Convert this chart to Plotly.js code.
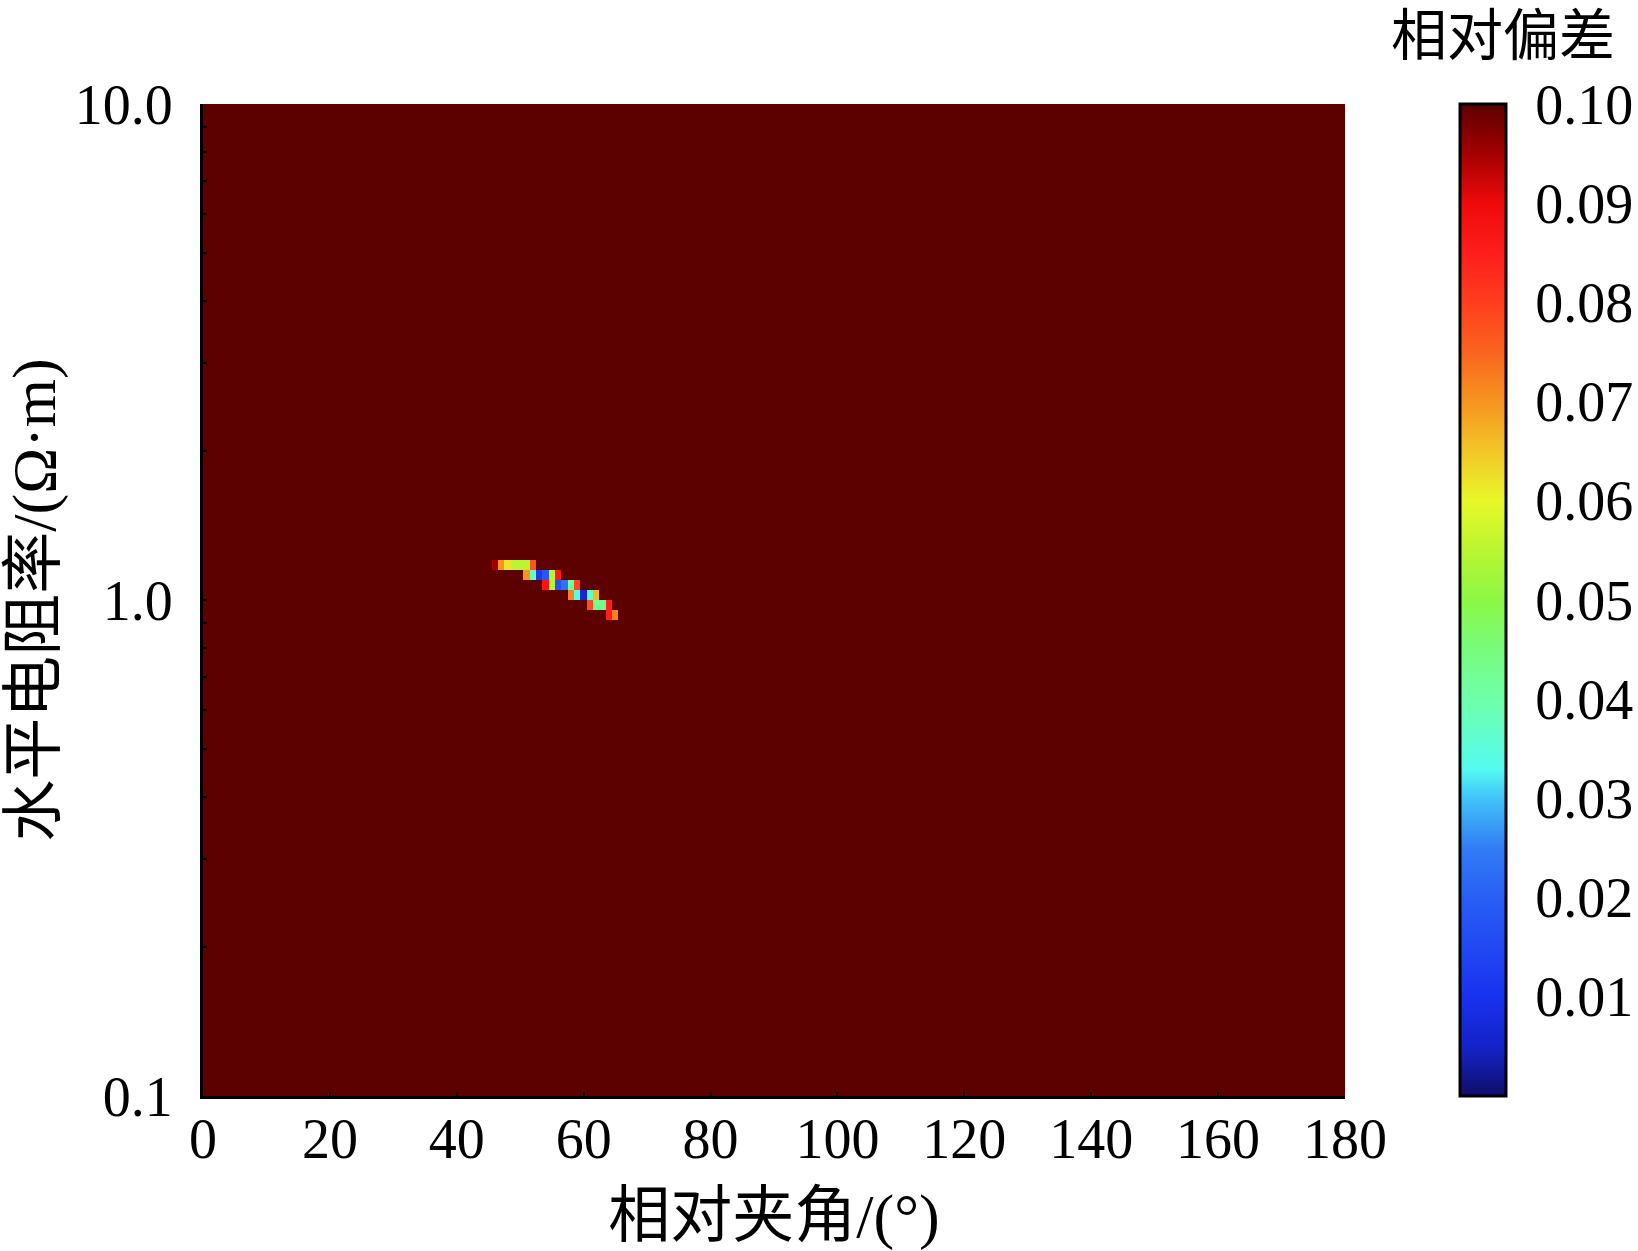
<!DOCTYPE html>
<html><head><meta charset="utf-8">
<script src="https://cdn.plot.ly/plotly-3.0.1.min.js"></script>
<style>html,body{margin:0;padding:0;background:#fff}#chart{width:1638px;height:1251px}</style>
</head><body><div id="chart"></div>
<script>
// ---- grid definition (relative angle in degrees, log10 of horizontal resistivity) ----
const angleMin = 0, angleMax = 180, angleStep = 1;
const logRhoMin = -1, logRhoMax = 1, logRhoStep = 0.02;
// value of every cell whose relative deviation is >= 0.1 (saturated at top of colour scale)
const saturatedDev = 0.1;

// ---- cells of the low-deviation band (angle °, resistivity Ω·m, relative deviation) ----
const curveAngle = [46, 47, 48, 49, 50, 51, 52,
                    51, 52, 53, 54, 55, 56,
                    54, 55, 56, 57, 58, 59,
                    58, 59, 60, 61, 62,
                    61, 62, 63, 64,
                    64, 65];
const curveRho   = [1.175, 1.175, 1.175, 1.175, 1.175, 1.175, 1.175,
                    1.122, 1.122, 1.122, 1.122, 1.122, 1.122,
                    1.072, 1.072, 1.072, 1.072, 1.072, 1.072,
                    1.023, 1.023, 1.023, 1.023, 1.023,
                    0.977, 0.977, 0.977, 0.977,
                    0.933, 0.933];
const curveDev   = [0.095, 0.070, 0.062, 0.055, 0.055, 0.055, 0.077,
                    0.070, 0.038, 0.012, 0.019, 0.055, 0.086,
                    0.087, 0.055, 0.017, 0.023, 0.042, 0.079,
                    0.072, 0.034, 0.006, 0.037, 0.066,
                    0.078, 0.043, 0.043, 0.085,
                    0.085, 0.072];

// ---- tick labels ----
const xTickVals = [0, 20, 40, 60, 80, 100, 120, 140, 160, 180];
const yDecadeRho = [0.1, 1, 10];
const yDecadeText = ['0.1', '1.0', '10.0'];
const cbTickVals = [0.01, 0.02, 0.03, 0.04, 0.05, 0.06, 0.07, 0.08, 0.09, 0.10];

// ---- build grid ----
const nAngle = Math.round((angleMax - angleMin) / angleStep) + 1;       // cells centred on integer angles
const nRho = Math.round((logRhoMax - logRhoMin) / logRhoStep);          // cells between edges
const angleEdges = [];
for (let i = 0; i <= nAngle; i++) angleEdges.push(angleMin - angleStep / 2 + i * angleStep);
const logRhoEdges = [];
for (let j = 0; j <= nRho; j++) logRhoEdges.push(+(logRhoMin + j * logRhoStep).toFixed(4));

const z = [];
for (let j = 0; j < nRho; j++) { const row = new Array(nAngle).fill(saturatedDev); z.push(row); }
for (let k = 0; k < curveAngle.length; k++) {
  const ci = Math.round((curveAngle[k] - angleMin) / angleStep);
  const rj = Math.floor((Math.log10(curveRho[k]) - logRhoMin) / logRhoStep);
  z[rj][ci] = curveDev[k];
}

// y ticks: decades labelled, 2..9 minor unlabelled
const yTickVals = [], yTickText = [];
for (let d = 0; d < yDecadeRho.length; d++) {
  yTickVals.push(Math.log10(yDecadeRho[d])); yTickText.push(yDecadeText[d]);
  if (d < yDecadeRho.length - 1) {
    for (let m = 2; m <= 9; m++) { yTickVals.push(Math.log10(m * yDecadeRho[d])); yTickText.push(''); }
  }
}
const cbTickText = cbTickVals.map(v => v.toFixed(2));

const colorscale = [
  [0.00, 'rgb(15,15,105)'], [0.05, 'rgb(20,35,200)'], [0.10, 'rgb(25,50,240)'],
  [0.20, 'rgb(40,95,245)'], [0.25, 'rgb(50,125,245)'], [0.30, 'rgb(65,195,250)'],
  [0.33, 'rgb(85,250,240)'], [0.40, 'rgb(110,255,170)'], [0.45, 'rgb(120,252,125)'],
  [0.50, 'rgb(140,248,70)'], [0.55, 'rgb(185,245,50)'], [0.60, 'rgb(232,248,40)'],
  [0.65, 'rgb(242,198,40)'], [0.70, 'rgb(246,148,32)'], [0.75, 'rgb(250,100,30)'],
  [0.80, 'rgb(255,62,30)'], [0.85, 'rgb(255,30,28)'], [0.90, 'rgb(238,10,10)'],
  [0.95, 'rgb(165,0,0)'], [1.00, 'rgb(92,0,0)']
];

const serif = 'Liberation Serif, Noto Sans CJK SC, serif';
const cjk = 'Liberation Serif, Noto Sans CJK SC, sans-serif';

const trace = {
  type: 'heatmap',
  x: angleEdges, y: logRhoEdges, z: z,
  zmin: 0, zmax: 0.1, zsmooth: false,
  colorscale: colorscale,
  hovertemplate: '相对夹角 %{x}°<br>相对偏差 %{z:.3f}<extra></extra>',
  colorbar: {
    thickness: 46, thicknessmode: 'pixels',
    len: 1, lenmode: 'fraction',
    x: (1460 - 203) / 1142, xanchor: 'left', xpad: 0,
    y: 0.5, yanchor: 'middle', ypad: 0,
    outlinewidth: 3, outlinecolor: '#000',
    tickmode: 'array', tickvals: cbTickVals, ticktext: cbTickText,
    ticks: 'outside', ticklen: 17, tickcolor: 'rgba(0,0,0,0)',
    tickfont: {family: serif, size: 56, color: '#000'}
  }
};

const layout = {
  width: 1638, height: 1251,
  margin: {l: 203, r: 293, t: 104, b: 155, autoexpand: false},
  paper_bgcolor: '#fff', plot_bgcolor: '#fff',
  xaxis: {
    range: [angleMin, angleMax], tickmode: 'array', tickvals: xTickVals,
    ticks: 'inside', ticklen: 4, tickwidth: 2, tickcolor: '#000',
    showline: true, linewidth: 3, linecolor: '#000', mirror: false,
    showgrid: false, zeroline: false, ticklabelstandoff: -8,
    tickfont: {family: serif, size: 56, color: '#000'},
    title: {text: '相对夹角/(°)', font: {family: cjk, size: 62, color: '#000'}, standoff: 42}
  },
  yaxis: {
    range: [logRhoMin, logRhoMax], tickmode: 'array', tickvals: yTickVals, ticktext: yTickText,
    ticks: 'inside', ticklen: 4, tickwidth: 2, tickcolor: '#000',
    showline: true, linewidth: 3, linecolor: '#000', mirror: false,
    showgrid: false, zeroline: false, ticklabelstandoff: 16,
    tickfont: {family: serif, size: 56, color: '#000'},
    title: {text: '水平电阻率/(Ω·m)', font: {family: cjk, size: 62, color: '#000'}, standoff: 7}
  },
  annotations: [{
    text: '相对偏差', xref: 'paper', yref: 'paper',
    x: (1503 - 203) / 1142, y: (1096 - 36) / 992,
    xanchor: 'center', yanchor: 'middle', showarrow: false, borderpad: 0,
    font: {family: cjk, size: 56, color: '#000'}
  }],
  showlegend: false
};

Plotly.newPlot('chart', [trace], layout, {displayModeBar: false, staticPlot: true});
</script>
</body></html>
